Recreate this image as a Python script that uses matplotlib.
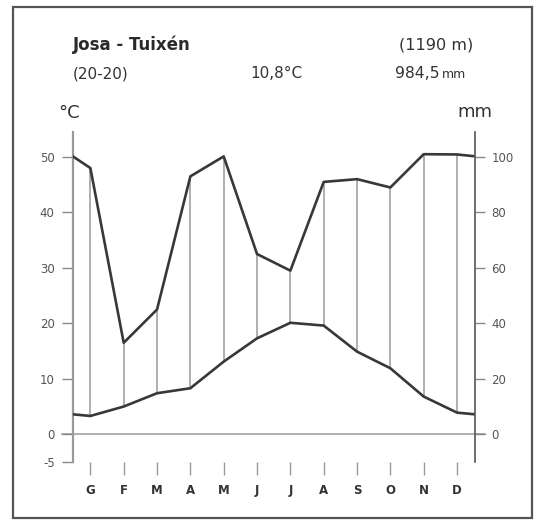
import matplotlib
matplotlib.use("Agg")
import matplotlib.pyplot as plt
import numpy as np

plt.rcParams['font.family'] = ['DejaVu Sans']

# ---- data ----
months = ["G", "F", "M", "A", "M", "J", "J", "A", "S", "O", "N", "D"]
temp_c = [3.3, 5.0, 7.4, 8.3, 13.1, 17.3, 20.1, 19.6, 14.9, 11.9, 6.8, 3.9]
precip_mm = [96, 33, 45, 93, 102, 65, 59, 91, 92, 89, 110, 109]
left_ticks = [-5, 0, 10, 20, 30, 40, 50]
right_ticks = [0, 20, 40, 60, 80, 100]
station = "Josa - Tuixén"
altitude = "(1190 m)"
period = "(20-20)"
mean_temp = "10,8°C"
total_precip = "984,5"

W, H = 536, 520
fig = plt.figure(figsize=(W / 100, H / 100), dpi=100)

def fx(x):
    return x / W

def fy(y):
    return 1 - y / H

# frame
fig.add_artist(plt.Rectangle((fx(12.5), fy(518)), fx(532) - fx(12.5), fy(7) - fy(518),
                             transform=fig.transFigure, fill=False, ec="#555555", lw=1.6))

ax = fig.add_axes([fx(72.7), fy(462), fx(474.7) - fx(72.7), fy(132) - fy(462)])
ax2 = ax.twinx()

xmin, xmax = -0.53, 11.53
ax.set_xlim(xmin, xmax)
ax.set_ylim(-5, 54.5)
ax2.set_ylim(-10, 109)


def wl(p):
    # Walter-Lieth scale: above 100 mm reduced to 1/10
    return p if p <= 100 else 100 + (p - 100) / 10.0


x = np.arange(12)
t = np.array(temp_c)
p = np.array([wl(v) for v in precip_mm]) / 2.0  # in °C units (2 mm = 1 °C)
t_end = (temp_c[0] + temp_c[-1]) / 2
p_end = wl((precip_mm[0] + precip_mm[-1]) / 2) / 2.0

xf = np.concatenate([[xmin], x, [xmax]])
tf = np.concatenate([[t_end], t, [t_end]])
pf = np.concatenate([[p_end], p, [p_end]])

ax.vlines(x, t, p, color="#9a9a9a", lw=1.1, zorder=2)
ax.plot(xf, tf, color="#383838", lw=1.9, zorder=3, solid_joinstyle="round")
ax.plot(xf, pf, color="#383838", lw=1.9, zorder=3, solid_joinstyle="round")

# zero line extended
ax.plot([-0.027, 1.026], [0, 0], transform=ax.get_yaxis_transform(), color="#aaaaaa",
        lw=1.3, clip_on=False, zorder=1)

for a in (ax, ax2):
    a.spines['top'].set_visible(False)
    a.spines['bottom'].set_visible(False)
    a.set_facecolor("none")
ax.spines['right'].set_visible(False)
ax2.spines['left'].set_visible(False)
ax.spines['left'].set_color("#999999")
ax.spines['left'].set_linewidth(1.6)
ax2.spines['right'].set_color("#555555")
ax2.spines['right'].set_linewidth(1.2)

ax.set_yticks(left_ticks)
ax.set_yticklabels([str(v) for v in left_ticks])
ax.tick_params(axis='y', direction='out', length=8, width=1.0, color="#888888",
               labelcolor="#555555", labelsize=8.5, pad=5)
ax2.set_yticks(right_ticks)
ax2.set_yticklabels([str(v) for v in right_ticks])
ax2.tick_params(axis='y', direction='out', length=7, width=1.0, color="#888888",
                labelcolor="#555555", labelsize=8.5, pad=5)

ax.set_xticks(x)
ax.set_xticklabels(months, fontweight='bold')
ax.tick_params(axis='x', direction='out', length=9, width=1.0, color="#999999",
               labelcolor="#333333", labelsize=8.5, pad=7)

# texts
fig.text(fx(72.5), fy(44.5), station, fontsize=12, fontweight='bold', color="#2a2a2a",
         ha='left', va='center')
fig.text(fx(473), fy(45), altitude, fontsize=11.6, color="#333333", ha='right', va='center')
fig.text(fx(73), fy(74), period, fontsize=10.9, color="#333333", ha='left', va='center')
fig.text(fx(276.5), fy(74), mean_temp, fontsize=11, color="#333333", ha='center', va='center')
fig.text(fx(440), fy(74), total_precip, fontsize=11.2, color="#333333", ha='right', va='center')
fig.text(fx(442), fy(75), "mm", fontsize=9, color="#333333", ha='left', va='center')
fig.text(fx(69), fy(113), "°C", fontsize=13, color="#333333", ha='center', va='center')
fig.text(fx(474.5), fy(112), "mm", fontsize=13, color="#333333", ha='center', va='center')

fig.savefig("out.png", dpi=100, facecolor="white")
